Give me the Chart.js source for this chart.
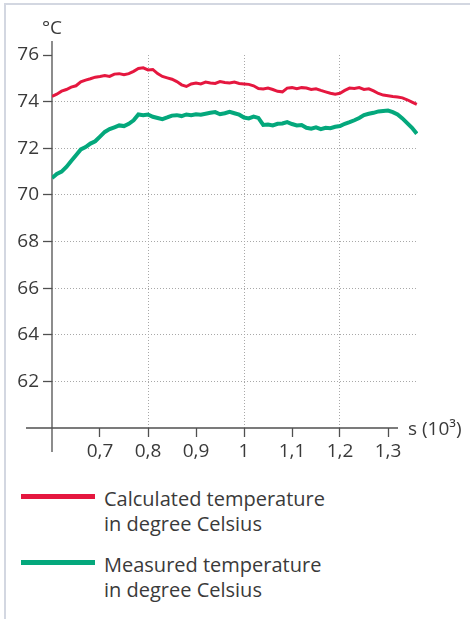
<!DOCTYPE html>
<html>
<head>
<meta charset="utf-8">
<script src="https://cdn.jsdelivr.net/npm/chart.js@4/dist/chart.umd.min.js"></script>
<style>
  html, body { margin: 0; padding: 0; background: #fff; overflow: hidden; }
  #wrap { position: relative; width: 470px; height: 619px; font-family: "Open Sans", sans-serif; color: #3a3a3a; }
  #frame { position: absolute; left: 4px; top: 3px; width: 520px; height: 700px;
           border-left: 2px solid #d3d7e1; border-top: 2px solid #d3d7e1; }
  #chartBox { position: absolute; left: 0; top: 0; width: 470px; height: 470px; }
  .item { position: absolute; left: 21px; }
  .swatch { position: absolute; left: 0; width: 74px; height: 5px; }
  .label { position: absolute; left: 83px; top: 0; font-size: 20px; line-height: 25px; white-space: nowrap; }
</style>
</head>
<body>
<div id="wrap">
  <div id="frame"></div>
  <div id="chartBox"><canvas id="chart1" width="470" height="470"></canvas></div>
  <div id="legend"></div>
</div>
<script>
'use strict';

// time in s (10^3)
var times = [
  0.60, 0.61, 0.62, 0.63, 0.64, 0.65, 0.66, 0.67, 0.68, 0.69,
  0.70, 0.71, 0.72, 0.73, 0.74, 0.75, 0.76, 0.77, 0.78, 0.79,
  0.80, 0.81, 0.82, 0.83, 0.84, 0.85, 0.86, 0.87, 0.88, 0.89,
  0.90, 0.91, 0.92, 0.93, 0.94, 0.95, 0.96, 0.97, 0.98, 0.99,
  1.00, 1.01, 1.02, 1.03, 1.04, 1.05, 1.06, 1.07, 1.08, 1.09,
  1.10, 1.11, 1.12, 1.13, 1.14, 1.15, 1.16, 1.17, 1.18, 1.19,
  1.20, 1.21, 1.22, 1.23, 1.24, 1.25, 1.26, 1.27, 1.28, 1.29,
  1.30, 1.31, 1.32, 1.33, 1.34, 1.35, 1.36
];
var calculated = [
  74.22, 74.32, 74.45, 74.52, 74.62, 74.68, 74.85, 74.92, 74.98, 75.05,
  75.08, 75.12, 75.08, 75.18, 75.20, 75.15, 75.20, 75.30, 75.42, 75.45,
  75.36, 75.38, 75.20, 75.08, 75.02, 74.96, 74.86, 74.72, 74.65, 74.76,
  74.80, 74.76, 74.84, 74.80, 74.78, 74.86, 74.82, 74.80, 74.84, 74.78,
  74.76, 74.74, 74.68, 74.56, 74.54, 74.58, 74.52, 74.44, 74.42, 74.58,
  74.60, 74.55, 74.60, 74.58, 74.52, 74.55, 74.48, 74.42, 74.36, 74.32,
  74.36, 74.48, 74.58, 74.56, 74.60, 74.52, 74.55, 74.46, 74.35, 74.28,
  74.25, 74.22, 74.20, 74.16, 74.08, 73.98, 73.88
];
var measured = [
  70.72, 70.90, 71.00, 71.20, 71.45, 71.70, 71.95, 72.05, 72.20, 72.30,
  72.50, 72.70, 72.82, 72.90, 72.98, 72.95, 73.05, 73.20, 73.45, 73.42,
  73.45, 73.35, 73.30, 73.25, 73.32, 73.40, 73.42, 73.38, 73.45, 73.42,
  73.46, 73.44, 73.48, 73.52, 73.55, 73.46, 73.50, 73.56, 73.50, 73.44,
  73.32, 73.28, 73.36, 73.30, 73.00, 73.02, 72.98, 73.05, 73.06, 73.12,
  73.04, 72.98, 73.00, 72.88, 72.84, 72.90, 72.82, 72.88, 72.86, 72.92,
  72.95, 73.05, 73.12, 73.20, 73.30, 73.42, 73.48, 73.52, 73.58, 73.60,
  73.62, 73.55, 73.45, 73.28, 73.08, 72.88, 72.62
];

var xTicks = [0.6, 0.7, 0.8, 0.9, 1.0, 1.1, 1.2, 1.3];
var xGrid = [0.8, 1.0, 1.2];
var yTicks = [62, 64, 66, 68, 70, 72, 74, 76];
var yGrid = [62, 64, 66, 68, 70, 72, 74];

var seriesNames = [
  ['Calculated temperature', 'in degree Celsius'],
  ['Measured temperature', 'in degree Celsius']
];
var COLORS = ['#e5173f', '#04a87c'];

var toPoints = function(values) {
  return values.map(function(v, i) { return {x: times[i], y: v}; });
};
var fmt = function(v) {
  return String(Math.round(v * 10) / 10).replace('.', ',');
};
var has = function(list, v) {
  return list.some(function(g) { return Math.abs(g - v) < 1e-6; });
};

var AXIS_COLOR = '#505050';
var TEXT_COLOR = '#3a3a3a';
var GRID_COLOR = '#a8a8a8';

// axes that cross each other, plus the unit labels
var crossAxes = {
  id: 'crossAxes',
  beforeDatasetsDraw: function(chart) {
    var ctx = chart.ctx;
    var xs = chart.scales.x, ys = chart.scales.y;
    var x0 = xs.getPixelForValue(0.6);
    var y0 = ys.getPixelForValue(60);
    var yTop = ys.getPixelForValue(76);
    ctx.save();
    ctx.strokeStyle = AXIS_COLOR;
    ctx.lineWidth = 1.3;
    ctx.beginPath();
    ctx.moveTo(x0, yTop - 14);
    ctx.lineTo(x0, y0 + 24);
    ctx.moveTo(x0 - 26, y0);
    ctx.lineTo(xs.getPixelForValue(1.3) + 10, y0);
    ctx.stroke();

    ctx.fillStyle = TEXT_COLOR;
    ctx.font = '19px "Open Sans"';
    ctx.textAlign = 'center';
    ctx.textBaseline = 'alphabetic';
    ctx.fillText('°C', x0, yTop - 21);
    ctx.textAlign = 'left';
    ctx.fillText('s (10³)', xs.getPixelForValue(1.3) + 20, y0 + 7);
    ctx.restore();
  }
};

var ctx = document.getElementById('chart1').getContext('2d');
var chart = new Chart(ctx, {
  type: 'line',
  data: {
    datasets: [{
      label: seriesNames[0].join(' '),
      data: toPoints(calculated),
      borderColor: COLORS[0],
      borderWidth: 3,
      pointRadius: 0,
      tension: 0
    }, {
      label: seriesNames[1].join(' '),
      data: toPoints(measured),
      borderColor: COLORS[1],
      borderWidth: 4,
      pointRadius: 0,
      tension: 0
    }]
  },
  options: {
    responsive: false,
    animation: false,
    layout: {padding: {top: 55, right: 52, left: 0, bottom: 0}},
    plugins: {
      legend: {display: false},
      tooltip: {enabled: false}
    },
    scales: {
      x: {
        type: 'linear',
        min: 0.6,
        max: 1.3625,
        afterBuildTicks: function(s) { s.ticks = xTicks.map(function(v) { return {value: v}; }); },
        afterFit: function(s) { s.height = 42; },
        border: {display: false, dash: [1, 2]},
        grid: {
          color: function(c) { return has(xGrid, c.tick.value) ? GRID_COLOR : 'rgba(0,0,0,0)'; },
          lineWidth: 1,
          tickColor: function(c) { return c.tick.value === 0.6 ? 'rgba(0,0,0,0)' : AXIS_COLOR; },
          tickLength: 9,
          tickWidth: 1.3,
          tickBorderDash: []
        },
        ticks: {
          padding: 3,
          color: TEXT_COLOR,
          font: {family: 'Open Sans', size: 19},
          maxRotation: 0,
          autoSkip: false,
          callback: function(v) { return v === 0.6 ? '' : fmt(v); }
        }
      },
      y: {
        min: 60,
        max: 76,
        afterBuildTicks: function(s) { s.ticks = yTicks.map(function(v) { return {value: v}; }); },
        afterFit: function(s) { s.width = 52; },
        border: {display: false, dash: [1, 2]},
        grid: {
          color: function(c) { return has(yGrid, c.tick.value) ? GRID_COLOR : 'rgba(0,0,0,0)'; },
          lineWidth: 1,
          tickColor: AXIS_COLOR,
          tickLength: 9,
          tickWidth: 1.3,
          tickBorderDash: []
        },
        ticks: {
          padding: 4,
          color: TEXT_COLOR,
          font: {family: 'Open Sans', size: 19},
          autoSkip: false,
          callback: function(v) { return String(v); }
        }
      }
    }
  },
  plugins: [crossAxes]
});

// legend with two-line labels, built from the datasets
var legendTops = [486, 552];
var legend = document.getElementById('legend');
chart.data.datasets.forEach(function(ds, i) {
  var item = document.createElement('div');
  item.className = 'item';
  item.style.top = legendTops[i] + 'px';
  var sw = document.createElement('div');
  sw.className = 'swatch';
  sw.style.background = ds.borderColor;
  sw.style.top = '8px';
  var lab = document.createElement('div');
  lab.className = 'label';
  lab.innerHTML = seriesNames[i].join('<br>');
  item.appendChild(sw);
  item.appendChild(lab);
  legend.appendChild(item);
});
</script>
</body>
</html>
